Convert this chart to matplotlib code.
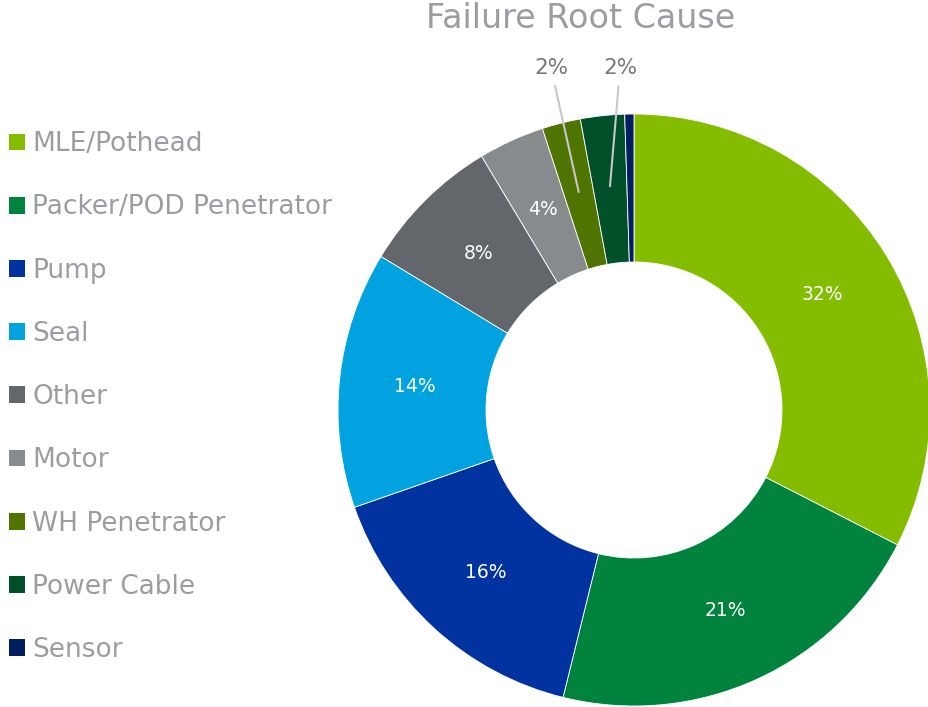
import matplotlib
matplotlib.use("Agg")
import matplotlib.pyplot as plt
import numpy as np

categories = ["MLE/Pothead", "Packer/POD Penetrator", "Pump", "Seal", "Other",
              "Motor", "WH Penetrator", "Power Cable", "Sensor"]
values = [32.5, 21.3, 15.8, 14.0, 7.7, 3.6, 2.1, 2.4, 0.5]
pct_labels = ["32%", "21%", "16%", "14%", "8%", "4%", "2%", "2%", ""]
outside = [False, False, False, False, False, False, True, True, False]
colors = ["#84BD00", "#00843D", "#0033A0", "#00A3E0", "#63666A",
          "#888B8D", "#4F7400", "#00502A", "#001E60"]
# label placement for the small outside slices: (angle offset in degrees, radius)
outside_place = {6: (0.6, 1.19), 7: (3.8, 1.157)}

plt.rcParams['font.family'] = ['DejaVu Sans']
fig = plt.figure(figsize=(9.29, 7.07), dpi=100)
W, H = 929, 707
cx, cy, R = 634, 410, 296
ax = fig.add_axes([(cx - R) / W, (H - cy - R) / H, 2 * R / W, 2 * R / H])

wedges, _ = ax.pie(values, colors=colors, startangle=90, counterclock=False,
                   radius=1.0, wedgeprops=dict(width=0.5, edgecolor="white", linewidth=0.6))
ax.set_xlim(-1, 1)
ax.set_ylim(-1, 1)
ax.set_aspect("equal")
ax.axis("off")

total = sum(values)
cum = 0.0
for i, v in enumerate(values):
    mid = (cum + v / 2) / total * 360.0  # clockwise from top
    cum += v
    if not pct_labels[i]:
        continue
    th = np.deg2rad(90 - mid)
    if not outside[i]:
        r = 0.745
        ax.text(r * np.cos(th), r * np.sin(th), pct_labels[i], ha="center", va="center",
                color="white", fontsize=13.5)
    else:
        r0 = 0.76
        off, r1 = outside_place[i]
        th2 = np.deg2rad(90 - (mid + off))
        ax.annotate(pct_labels[i], xy=(r0 * np.cos(th), r0 * np.sin(th)),
                    xytext=(r1 * np.cos(th2), r1 * np.sin(th2)),
                    ha="center", va="center", color="#77787B", fontsize=15.5,
                    arrowprops=dict(arrowstyle="-", color="#C8C8C8", lw=1.5,
                                    shrinkA=4, shrinkB=0),
                    annotation_clip=False)

fig.text(581 / W, 1 - 18 / H, "Failure Root Cause", ha="center", va="center",
         color="#9A9DA1", fontsize=24)

leg = fig.legend(wedges, categories, loc="upper left", bbox_to_anchor=(4 / W, 1 - 126 / H),
                 frameon=False, fontsize=19, handlelength=0.6, handleheight=0.6,
                 handletextpad=0.27, labelspacing=1.41, borderaxespad=0, borderpad=0.2)
for t in leg.get_texts():
    t.set_color("#9A9DA1")
for h in leg.legend_handles:
    h.set_edgecolor("none")

fig.savefig("out.png", dpi=100)
